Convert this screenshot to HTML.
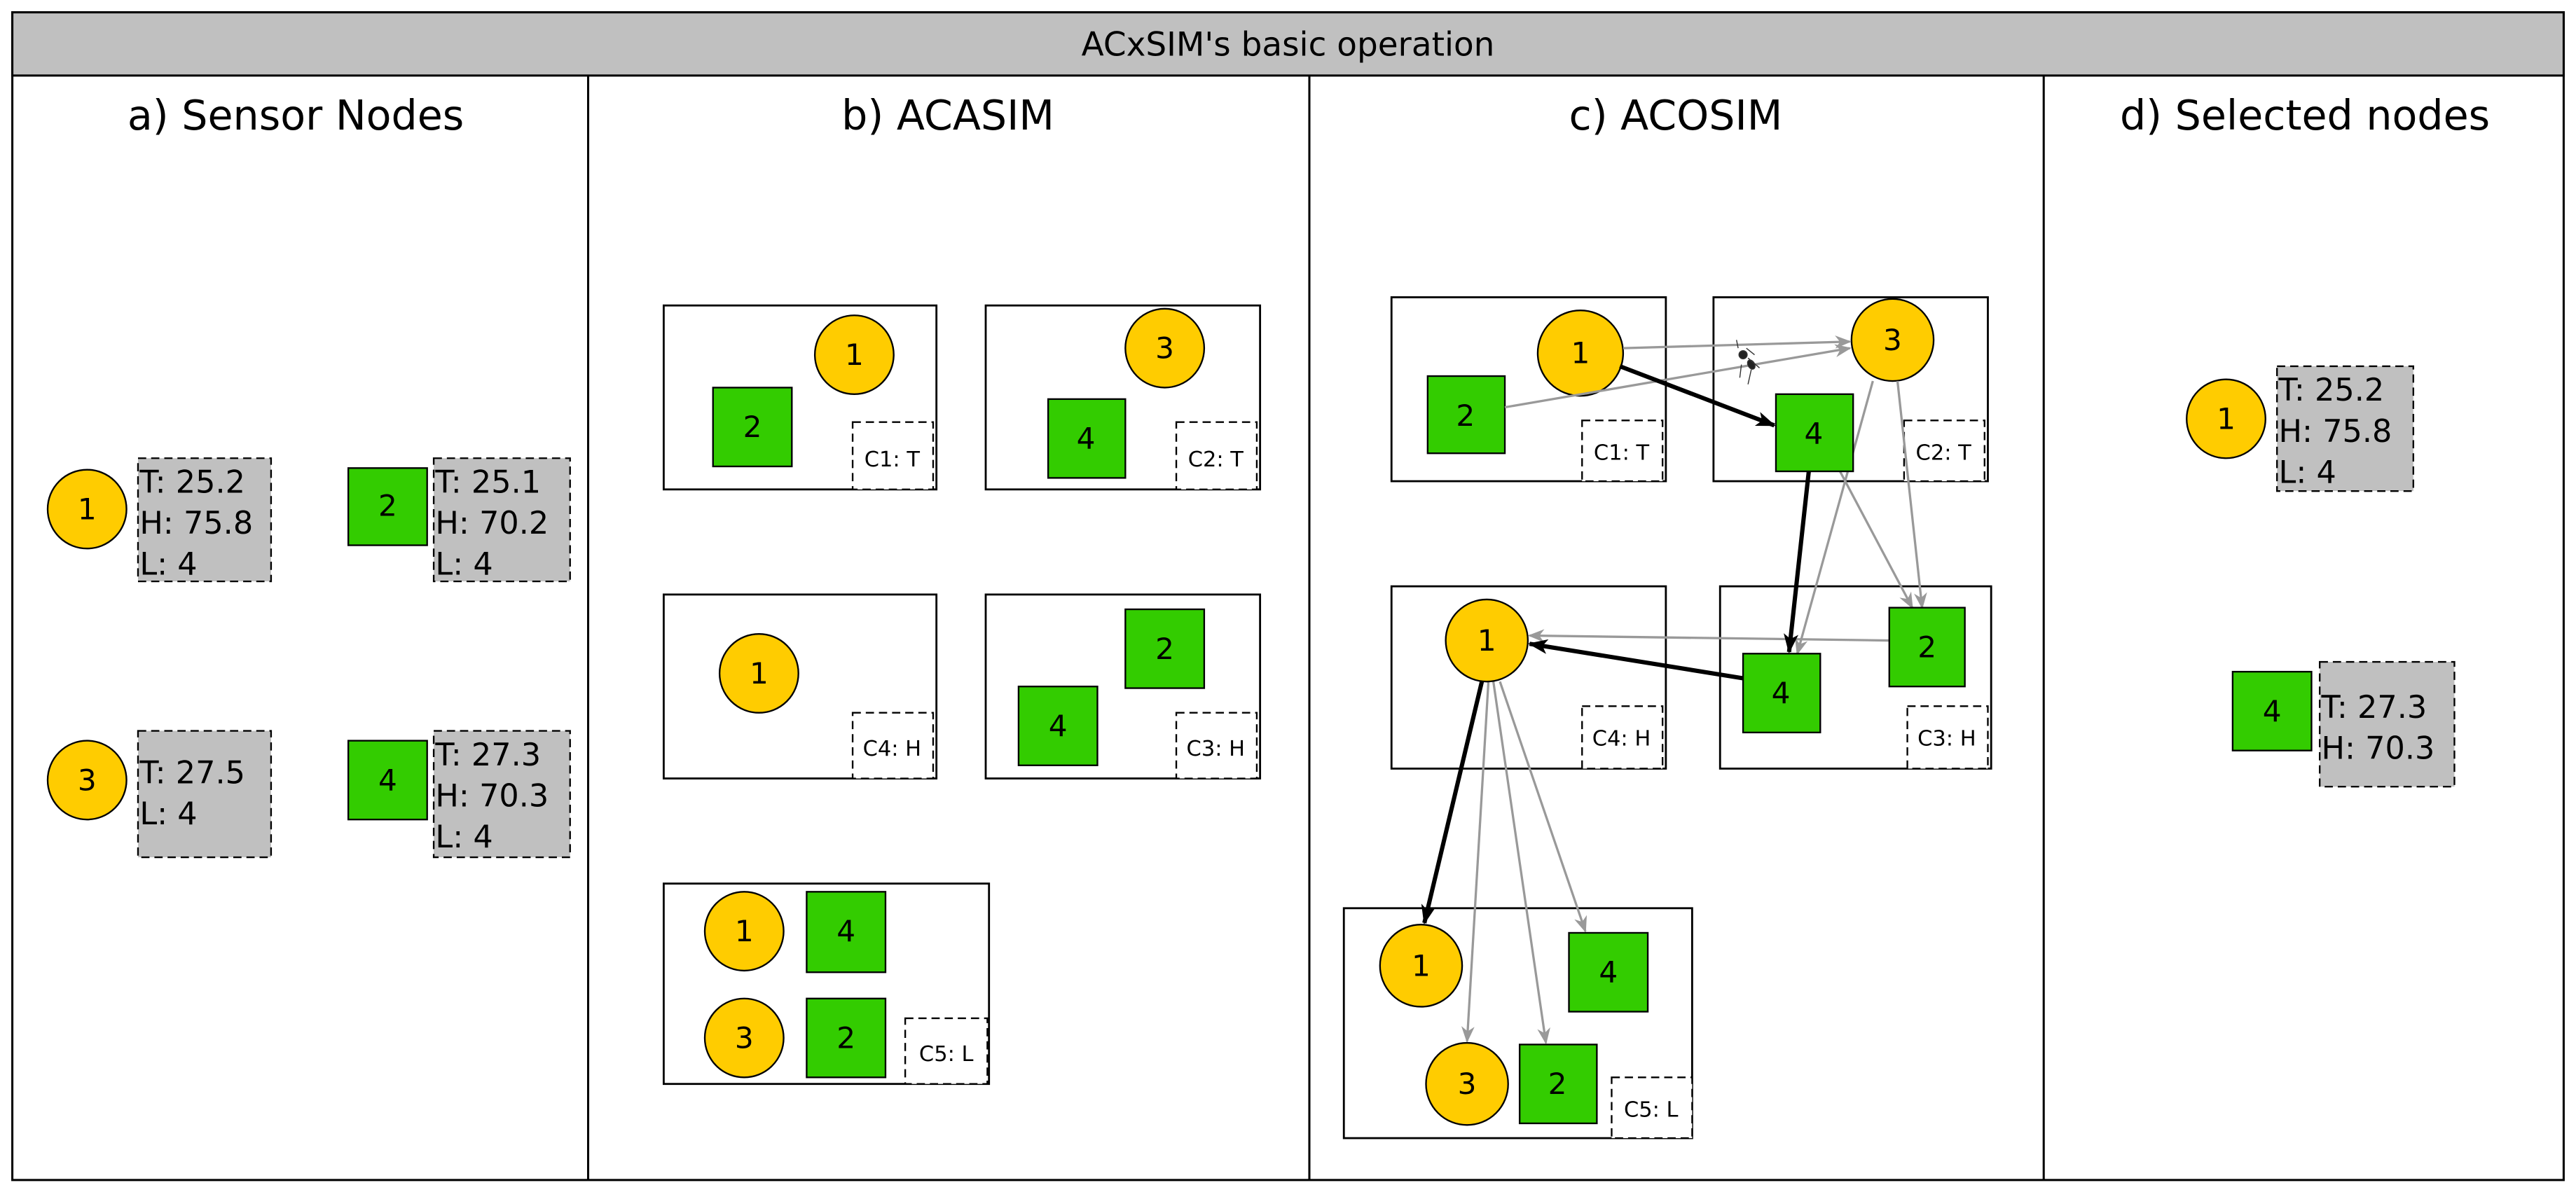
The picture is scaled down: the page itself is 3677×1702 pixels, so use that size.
<!DOCTYPE html>
<html><head><meta charset="utf-8"><style>
html,body{margin:0;padding:0;background:#fff;}
svg{display:block;}
text{font-family:"DejaVu Sans","Liberation Sans",sans-serif;fill:#000;}
.n{font-size:18px;text-anchor:middle;dominant-baseline:central;}
.i{font-size:19px;}
.l{font-size:13px;text-anchor:middle;dominant-baseline:central;}
.t{font-size:25px;text-anchor:middle;}
.c{fill:#ffcc00;stroke:#000;stroke-width:1;}
.s{fill:#33cc00;stroke:#000;stroke-width:1;}
.b{fill:#c0c0c0;stroke:#000;stroke-width:1;stroke-dasharray:5 3;}
.d{fill:#fff;stroke:#000;stroke-width:1;stroke-dasharray:5 3;}
.r{fill:#fff;stroke:#000;stroke-width:1.2;}
.g{stroke:#999;stroke-width:1.4;fill:none;marker-end:url(#ag);}
.k{stroke:#000;stroke-width:2.6;fill:none;marker-end:url(#ak);}
</style></head><body>
<svg width="3677" height="1702" viewBox="0 0 1568 725.8" preserveAspectRatio="none" xmlns="http://www.w3.org/2000/svg">
<defs>
<marker id="ag" markerWidth="10" markerHeight="8" refX="9" refY="4" orient="auto" markerUnits="userSpaceOnUse"><path d="M0,0 L10,4 L0,8 L3,4 Z" fill="#999"/></marker>
<marker id="ak" markerWidth="12" markerHeight="9" refX="11" refY="4.5" orient="auto" markerUnits="userSpaceOnUse"><path d="M0,0 L12,4.5 L0,9 L3,4.5 Z" fill="#000"/></marker>
</defs>
<rect x="7.5" y="7.5" width="1553" height="711" fill="#fff" stroke="#000" stroke-width="1.3"/>
<rect x="7.5" y="7.5" width="1553" height="38.5" fill="#c0c0c0" stroke="#000" stroke-width="1.3"/>
<text x="784" y="34" style="font-size:20px;text-anchor:middle">ACxSIM's basic operation</text>
<line x1="358" y1="46" x2="358" y2="718" stroke="#000" stroke-width="1.3"/>
<line x1="797" y1="46" x2="797" y2="718" stroke="#000" stroke-width="1.3"/>
<line x1="1244" y1="46" x2="1244" y2="718" stroke="#000" stroke-width="1.3"/>
<text class="t" x="180" y="79">a) Sensor Nodes</text>
<text class="t" x="577" y="79">b) ACASIM</text>
<text class="t" x="1020" y="79">c) ACOSIM</text>
<text class="t" x="1403" y="79">d) Selected nodes</text>

<!-- panel a -->
<circle class="c" cx="53" cy="310" r="24"/><text class="n" x="53" y="310">1</text>
<rect class="b" x="84" y="279" width="81" height="75"/>
<text class="i" x="85" y="300">T: 25.2</text><text class="i" x="85" y="325">H: 75.8</text><text class="i" x="85" y="350">L: 4</text>
<rect class="s" x="212" y="285" width="48" height="47"/><text class="n" x="236" y="308">2</text>
<rect class="b" x="264" y="279" width="83" height="75"/>
<text class="i" x="265" y="300">T: 25.1</text><text class="i" x="265" y="325">H: 70.2</text><text class="i" x="265" y="350">L: 4</text>
<circle class="c" cx="53" cy="475" r="24"/><text class="n" x="53" y="475">3</text>
<rect class="b" x="84" y="445" width="81" height="77"/>
<text class="i" x="85" y="477">T: 27.5</text><text class="i" x="85" y="502">L: 4</text>
<rect class="s" x="212" y="451" width="48" height="48"/><text class="n" x="236" y="475">4</text>
<rect class="b" x="264" y="445" width="83" height="77"/>
<text class="i" x="265" y="466">T: 27.3</text><text class="i" x="265" y="491">H: 70.3</text><text class="i" x="265" y="516">L: 4</text>

<!-- panel b -->
<rect class="r" x="404" y="186" width="166" height="112"/>
<circle class="c" cx="520" cy="216" r="24"/><text class="n" x="520" y="216">1</text>
<rect class="s" x="434" y="236" width="48" height="48"/><text class="n" x="458" y="260">2</text>
<rect class="d" x="519" y="257" width="49" height="41"/><text class="l" x="543" y="280">C1: T</text>
<rect class="r" x="600" y="186" width="167" height="112"/>
<circle class="c" cx="709" cy="212" r="24"/><text class="n" x="709" y="212">3</text>
<rect class="s" x="638" y="243" width="47" height="48"/><text class="n" x="661" y="267">4</text>
<rect class="d" x="716" y="257" width="49" height="41"/><text class="l" x="740" y="280">C2: T</text>
<rect class="r" x="404" y="362" width="166" height="112"/>
<circle class="c" cx="462" cy="410" r="24"/><text class="n" x="462" y="410">1</text>
<rect class="d" x="519" y="434" width="49" height="40"/><text class="l" x="543" y="456">C4: H</text>
<rect class="r" x="600" y="362" width="167" height="112"/>
<rect class="s" x="685" y="371" width="48" height="48"/><text class="n" x="709" y="395">2</text>
<rect class="s" x="620" y="418" width="48" height="48"/><text class="n" x="644" y="442">4</text>
<rect class="d" x="716" y="434" width="49" height="40"/><text class="l" x="740" y="456">C3: H</text>
<rect class="r" x="404" y="538" width="198" height="122"/>
<circle class="c" cx="453" cy="567" r="24"/><text class="n" x="453" y="567">1</text>
<rect class="s" x="491" y="543" width="48" height="49"/><text class="n" x="515" y="567">4</text>
<circle class="c" cx="453" cy="632" r="24"/><text class="n" x="453" y="632">3</text>
<rect class="s" x="491" y="608" width="48" height="48"/><text class="n" x="515" y="632">2</text>
<rect class="d" x="551" y="620" width="50" height="40"/><text class="l" x="576" y="642">C5: L</text>

<!-- panel c -->
<rect class="r" x="847" y="181" width="167" height="112"/>
<rect class="s" x="869" y="229" width="47" height="47"/><text class="n" x="892" y="253">2</text>
<circle class="c" cx="962" cy="215" r="26"/><text class="n" x="962" y="215">1</text>
<rect class="d" x="963" y="256" width="49" height="37"/><text class="l" x="987" y="276">C1: T</text>
<rect class="r" x="1043" y="181" width="167" height="112"/>
<circle class="c" cx="1152" cy="207" r="25"/><text class="n" x="1152" y="207">3</text>
<rect class="d" x="1159" y="256" width="49" height="37"/><text class="l" x="1183" y="276">C2: T</text>
<rect class="r" x="847" y="357" width="167" height="111"/>
<rect class="d" x="963" y="430" width="49" height="38"/><text class="l" x="987" y="450">C4: H</text>
<rect class="r" x="1047" y="357" width="165" height="111"/>
<rect class="d" x="1161" y="430" width="49" height="38"/><text class="l" x="1185" y="450">C3: H</text>
<rect class="r" x="818" y="553" width="212" height="140"/>
<rect class="d" x="981" y="656" width="49" height="37"/><text class="l" x="1005" y="676">C5: L</text>

<line class="g" x1="988" y1="212" x2="1126" y2="208"/>
<line class="g" x1="916" y1="248" x2="1126" y2="212"/>
<line class="g" x1="1140" y1="232" x2="1094" y2="398"/>
<line class="g" x1="1120" y1="287" x2="1164" y2="370"/>
<line class="g" x1="1155" y1="232" x2="1170" y2="370"/>
<line class="g" x1="1150" y1="390" x2="931" y2="387"/>
<line class="g" x1="906" y1="415" x2="893" y2="634"/>
<line class="g" x1="909" y1="415" x2="941" y2="635"/>
<line class="g" x1="913" y1="415" x2="965" y2="567"/>

<rect class="s" x="1081" y="240" width="47" height="47"/><text class="n" x="1104" y="264">4</text>
<rect class="s" x="1150" y="370" width="46" height="48"/><text class="n" x="1173" y="394">2</text>
<rect class="s" x="1061" y="398" width="47" height="48"/><text class="n" x="1084" y="422">4</text>
<circle class="c" cx="905" cy="390" r="25"/><text class="n" x="905" y="390">1</text>
<circle class="c" cx="865" cy="588" r="25"/><text class="n" x="865" y="588">1</text>
<rect class="s" x="955" y="568" width="48" height="48"/><text class="n" x="979" y="592">4</text>
<circle class="c" cx="893" cy="660" r="25"/><text class="n" x="893" y="660">3</text>
<rect class="s" x="925" y="636" width="47" height="48"/><text class="n" x="948" y="660">2</text>

<line class="k" x1="986" y1="223" x2="1080" y2="259"/>
<line class="k" x1="1101" y1="287" x2="1089" y2="397"/>
<line class="k" x1="1061" y1="413" x2="931" y2="392"/>
<line class="k" x1="902" y1="415" x2="867" y2="562"/>

<!-- ant -->
<g stroke="#333" stroke-width="0.6" fill="#222">
<ellipse cx="1061" cy="216" rx="2.5" ry="2.5"/>
<ellipse cx="1066" cy="222" rx="2" ry="3" transform="rotate(-30 1066 222)"/>
<line x1="1058" y1="212" x2="1057" y2="207"/><line x1="1064" y1="218" x2="1071" y2="224"/>
<line x1="1060" y1="222" x2="1059" y2="230"/><line x1="1066" y1="225" x2="1064" y2="234"/>
<line x1="1068" y1="216" x2="1063" y2="212"/>
</g>

<!-- panel d -->
<circle class="c" cx="1355" cy="255" r="24"/><text class="n" x="1355" y="255">1</text>
<rect class="b" x="1386" y="223" width="83" height="76"/>
<text class="i" x="1387" y="244">T: 25.2</text><text class="i" x="1387" y="269">H: 75.8</text><text class="i" x="1387" y="294">L: 4</text>
<rect class="s" x="1359" y="409" width="48" height="48"/><text class="n" x="1383" y="433">4</text>
<rect class="b" x="1412" y="403" width="82" height="76"/>
<text class="i" x="1413" y="437">T: 27.3</text><text class="i" x="1413" y="462">H: 70.3</text>
</svg>
</body></html>
